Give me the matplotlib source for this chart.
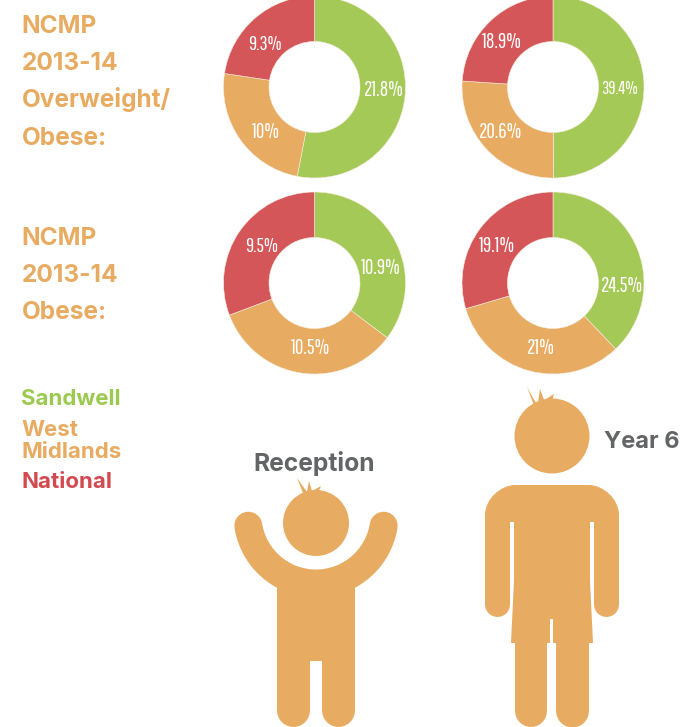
import matplotlib
matplotlib.use("Agg")
import matplotlib.pyplot as plt
import numpy as np
from matplotlib.patches import Circle, PathPatch, Polygon, Rectangle
from matplotlib.path import Path

W, H = 680, 727

groups = ["Sandwell", "West Midlands", "National"]
reception_overweight = [21.8, 10, 9.3]
year6_overweight = [39.4, 20.6, 18.9]
reception_obese = [10.9, 10.5, 9.5]
year6_obese = [24.5, 21, 19.1]
label_overweight = ["21.8%", "10%", "9.3%"]
label_overweight6 = ["39.4%", "20.6%", "18.9%"]
label_obese = ["10.9%", "10.5%", "9.5%"]
label_obese6 = ["24.5%", "21%", "19.1%"]

GREEN = "#A5C957"
ORANGE = "#E8AB62"
RED = "#D55658"
GREY = "#636466"
SKIN = "#E8AB62"

NARROW = ["Pathway Gothic One", "Oswald", "Liberation Sans"]
HEAD = ["Inter", "Liberation Sans"]

plt.rcParams["font.family"] = ["Liberation Sans", "DejaVu Sans"]

fig = plt.figure(figsize=(W / 100, H / 100), dpi=100)


def donut(cx, cy, values, labels, label_pos, sizes):
    r = 91 * 1.02
    ax = fig.add_axes([(cx - r) / W, (H - cy - r) / H, 2 * r / W, 2 * r / H])
    ax.pie(values, colors=[GREEN, ORANGE, RED], startangle=90, counterclock=False,
           radius=1, wedgeprops=dict(width=0.5, edgecolor="#F6EFE2", linewidth=0.4))
    ax.set_xlim(-1.02, 1.02)
    ax.set_ylim(-1.02, 1.02)
    for lab, (x, y), s in zip(labels, label_pos, sizes):
        over.text(x, y + 1.5, lab, color="white", fontsize=s, ha="center", va="center",
                  family=NARROW, zorder=5)


# full-figure layer in pixel coordinates for text and the two figures
over = fig.add_axes([0, 0, 1, 1], zorder=10)
over.set_xlim(0, W)
over.set_ylim(H, 0)
over.axis("off")
over.patch.set_alpha(0)

donut(314.5, 87, reception_overweight, label_overweight,
      [(384, 88), (266, 131), (265, 43)], [15, 15, 14.5])
donut(553, 87, year6_overweight, label_overweight6,
      [(620, 87), (501, 130), (502, 41)], [13, 15, 15])
donut(314.5, 283, reception_obese, label_obese,
      [(381, 267), (311, 347), (262, 245)], [15, 15, 14.5])
donut(553, 283, year6_obese, label_obese6,
      [(622, 284), (541, 347), (497, 245)], [15, 15, 15])


def bold(x, y, s, color, size=17.6):
    over.text(x, y, s, color=color, fontsize=size, fontweight="bold", ha="left", va="baseline",
              family=HEAD)


for y, s in zip([33, 70, 107, 145], ["NCMP", "2013-14", "Overweight/", "Obese:"]):
    bold(21.5, y, s, ORANGE)
for y, s in zip([245, 282, 319], ["NCMP", "2013-14", "Obese:"]):
    bold(21.5, y, s, ORANGE)

bold(21.5, 405, "Sandwell", "#9CC94F", 16)
bold(21.5, 436, "West", ORANGE, 16)
bold(21.5, 458, "Midlands", ORANGE, 16)
bold(21.5, 488, "National", "#D2494F", 16)
bold(253.5, 471, "Reception", GREY, 17.7)
bold(604, 448, "Year 6", GREY, 17)


def stroke(xs, ys, width):
    over.plot(xs, ys, color=SKIN, lw=width * 0.72, solid_capstyle="round", zorder=3, snap=False)


def fill(patch):
    patch.set(facecolor=SKIN, edgecolor="none", zorder=3, snap=False)
    over.add_patch(patch)


# small figure with raised arms
fill(Circle((316, 523), 33))
fill(Polygon([(297, 478), (307, 492), (309, 481), (312, 491), (321, 486), (318, 493), (303, 493)]))
t = np.radians(np.linspace(9, 171, 80))
stroke(316 + 68.5 * np.cos(t), 515 + 68.5 * np.sin(t), 28)
fill(Rectangle((277, 575), 78, 86))
stroke([293.5, 293.5], [650, 710.5], 33)
stroke([338.5, 338.5], [650, 710.5], 33)

# taller figure with arms down
fill(Circle((552, 436), 37.5))
fill(Polygon([(527, 387), (536, 403), (538, 402), (540, 389), (544, 400), (546, 399),
              (554, 394), (552, 402), (535, 408)]))
k = 30 * 0.45
shoulders = Path(
    [(485, 522), (485, 515), (485, 515 - k - 3), (515 - k, 485), (515, 485),
     (589, 485), (589 + k, 485), (619, 515 - k - 3), (619, 515), (619, 522), (485, 522)],
    [Path.MOVETO, Path.LINETO, Path.CURVE4, Path.CURVE4, Path.CURVE4,
     Path.LINETO, Path.CURVE4, Path.CURVE4, Path.CURVE4, Path.LINETO, Path.CLOSEPOLY],
)
fill(PathPatch(shoulders))
stroke([497.5, 497.5], [518, 604.5], 25)
stroke([606.5, 606.5], [518, 604.5], 25)
fill(Rectangle((514, 515), 76, 70))
fill(Polygon([(514, 581), (590, 581), (593, 643), (553, 643), (553, 619), (550, 619), (550, 643), (511, 643)]))
stroke([531, 531], [640, 711], 32)
stroke([572.5, 572.5], [640, 711], 33)

fig.savefig("out.png", dpi=100)
